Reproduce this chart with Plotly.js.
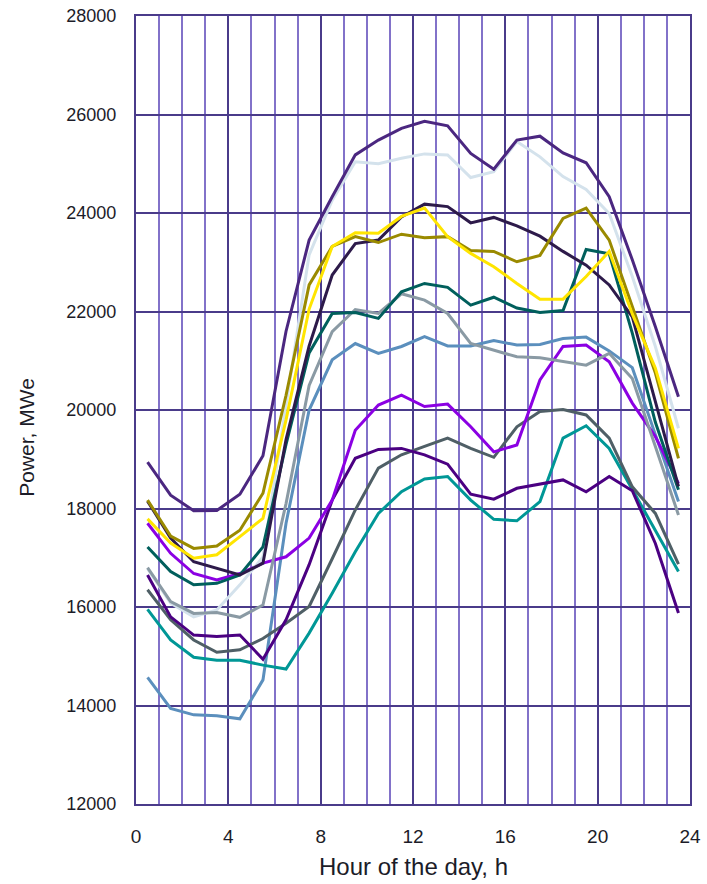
<!DOCTYPE html>
<html>
<head>
<meta charset="utf-8">
<script src="https://cdn.plot.ly/plotly-3.0.1.min.js"></script>
<style>
  html, body { margin: 0; padding: 0; background: #ffffff; }
  #chart { width: 707px; height: 884px; }
</style>
</head>
<body>
<div id="chart"></div>
<script>
// Hourly electrical load profiles (MWe), one value per hour, plotted at the half hour
const hours = [0.5, 1.5, 2.5, 3.5, 4.5, 5.5, 6.5, 7.5, 8.5, 9.5, 10.5, 11.5,
               12.5, 13.5, 14.5, 15.5, 16.5, 17.5, 18.5, 19.5, 20.5, 21.5, 22.5, 23.5];

const loadPurple = [18940, 18270, 17955, 17960, 18290, 19070, 21600, 23450, 24330, 25180, 25480, 25720,
                    25860, 25770, 25210, 24890, 25480, 25560, 25220, 25020, 24330, 23050, 21690, 20270];
const loadLightBlue = [16780, 16080, 15800, 15940, 16450, 17015, 20100, 23150, 24260, 25040, 25000, 25110,
                       25200, 25180, 24720, 24840, 25450, 25140, 24740, 24480, 23990, 22710, 21290, 19630];
const loadYellow = [17790, 17300, 16990, 17060, 17430, 17800, 19800, 22050, 23320, 23600, 23590, 23930,
                    24100, 23520, 23180, 22910, 22570, 22250, 22250, 22710, 23220, 21950, 20850, 19220];
const loadOlive = [18170, 17440, 17190, 17240, 17560, 18310, 20300, 22540, 23320, 23520, 23400, 23570,
                   23500, 23520, 23240, 23220, 23010, 23140, 23890, 24100, 23450, 22100, 20750, 19020];
const loadDarkPurple = [18150, 17400, 16920, 16790, 16650, 16890, 19400, 21300, 22740, 23380, 23450, 23920,
                        24180, 24130, 23800, 23910, 23740, 23530, 23220, 22940, 22540, 21890, 20150, 18450];
const loadDarkTeal = [17220, 16720, 16450, 16480, 16650, 17220, 19300, 21160, 21960, 21980, 21860, 22400,
                      22570, 22490, 22130, 22290, 22070, 21980, 22020, 23260, 23170, 21560, 19750, 18380];
const loadGray = [16800, 16110, 15870, 15890, 15790, 16040, 18100, 20500, 21590, 22040, 21960, 22360,
                  22230, 21960, 21350, 21220, 21080, 21060, 20980, 20910, 21150, 20640, 19260, 17870];
const loadSteel = [14570, 13940, 13810, 13790, 13730, 14520, 17700, 20000, 21020, 21350, 21150, 21290,
                   21490, 21300, 21300, 21410, 21320, 21330, 21450, 21480, 21200, 20860, 19500, 18140];
const loadViolet = [17700, 17090, 16680, 16550, 16680, 16890, 17020, 17400, 18170, 19590, 20100, 20300,
                    20070, 20120, 19660, 19150, 19290, 20610, 21290, 21320, 20980, 20140, 19460, 18510];
const loadIndigo = [16650, 15800, 15430, 15400, 15430, 14940, 15740, 16860, 18170, 19020, 19200, 19220,
                    19090, 18900, 18290, 18190, 18410, 18490, 18580, 18340, 18650, 18360, 17290, 15880];
const loadSlate = [16350, 15740, 15330, 15080, 15130, 15360, 15670, 16010, 16980, 17970, 18820, 19090,
                   19260, 19430, 19220, 19040, 19660, 19970, 20010, 19900, 19430, 18440, 17900, 16870];
const loadTeal = [15950, 15330, 14980, 14920, 14920, 14820, 14740, 15470, 16280, 17120, 17900, 18340,
                  18600, 18650, 18170, 17780, 17750, 18140, 19430, 19680, 19220, 18380, 17560, 16720];

const xTickVals = [0, 4, 8, 12, 16, 20, 24];
const yTickVals = [12000, 14000, 16000, 18000, 20000, 22000, 24000, 26000, 28000];
const xTitle = 'Hour of the day, h';
const yTitle = 'Power, MWe';

// drawn from the bottom layer up
const profiles = [
  { y: loadSteel,      color: '#5b8fbd' },
  { y: loadTeal,       color: '#009796' },
  { y: loadSlate,      color: '#4f5f66' },
  { y: loadIndigo,     color: '#4b0082' },
  { y: loadViolet,     color: '#8b00e3' },
  { y: loadLightBlue,  color: '#d4e2ec' },
  { y: loadGray,       color: '#8a9aa4' },
  { y: loadDarkTeal,   color: '#005f5c' },
  { y: loadDarkPurple, color: '#2d1a4a' },
  { y: loadOlive,      color: '#9a8a00' },
  { y: loadYellow,     color: '#ffe500' },
  { y: loadPurple,     color: '#4b2780' }
];

const traces = profiles.map(p => ({
  type: 'scatter',
  mode: 'lines',
  x: hours,
  y: p.y,
  line: { color: p.color, width: 3 },
  hoverinfo: 'x+y',
  showlegend: false
}));

const majorGrid = '#4a3b8a';
const minorGrid = '#8272c9';
const textColor = '#1c1c28';
const font = 'Liberation Sans, Arial, sans-serif';

const layout = {
  width: 707,
  height: 884,
  margin: { l: 136, r: 17, t: 16, b: 80 },
  paper_bgcolor: '#ffffff',
  plot_bgcolor: '#ffffff',
  font: { family: font, color: textColor, size: 18 },
  showlegend: false,
  xaxis: {
    range: [0, 24],
    tickvals: xTickVals,
    ticktext: xTickVals.map(String),
    showgrid: true,
    gridcolor: majorGrid,
    gridwidth: 2,
    minor: { dtick: 1, tick0: 0, showgrid: true, gridcolor: minorGrid, gridwidth: 2, ticks: '' },
    zeroline: false,
    showline: true,
    mirror: true,
    linecolor: majorGrid,
    linewidth: 2,
    ticks: 'outside',
    ticklen: 14,
    tickcolor: 'rgba(0,0,0,0)',
    tickfont: { family: font, size: 19, color: textColor }
  },
  yaxis: {
    range: [12000, 28000],
    tickvals: yTickVals,
    ticktext: yTickVals.map(String),
    showgrid: true,
    gridcolor: majorGrid,
    gridwidth: 2,
    zeroline: false,
    showline: true,
    mirror: true,
    linecolor: majorGrid,
    linewidth: 2,
    ticks: 'outside',
    ticklen: 14,
    tickcolor: 'rgba(0,0,0,0)',
    tickfont: { family: font, size: 18, color: textColor }
  },
  annotations: [
    {
      text: xTitle, xref: 'paper', yref: 'paper', x: 0.5018, y: -0.0787,
      xanchor: 'center', yanchor: 'middle', showarrow: false,
      font: { family: font, size: 24, color: textColor }
    },
    {
      text: yTitle, xref: 'paper', yref: 'paper', x: -0.1968, y: 0.466,
      xanchor: 'center', yanchor: 'middle', textangle: -90, showarrow: false,
      font: { family: font, size: 21, color: textColor }
    }
  ]
};

Plotly.newPlot('chart', traces, layout, { displayModeBar: false, staticPlot: true });
</script>
</body>
</html>
